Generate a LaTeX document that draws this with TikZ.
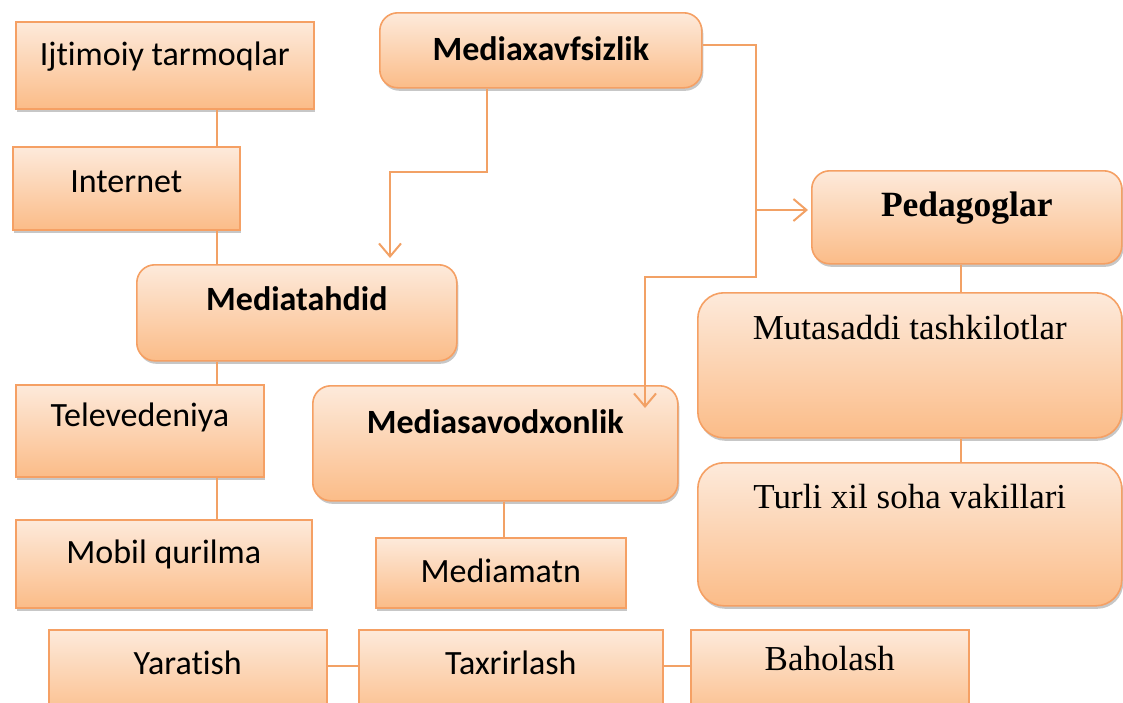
\documentclass[tikz,border=0pt]{standalone}
\usepackage{fontspec}
\setmainfont[Ligatures={NoCommon,NoContextual}]{Carlito}
\newfontfamily\serif{Liberation Serif}
\usetikzlibrary{arrows.meta,shadows}
\definecolor{topc}{HTML}{FDEADB}
\definecolor{botc}{HTML}{FBBC88}
\definecolor{bord}{HTML}{F5A064}
\definecolor{conc}{HTML}{F2A165}
\tikzset{
  box/.style={draw=bord, line width=1.6pt, top color=topc, bottom color=botc,
    inner sep=0pt, anchor=north west, font=\fontsize{34}{40}\selectfont,
    drop shadow={shadow xshift=1.5pt, shadow yshift=-3pt, opacity=0.22, fill=black}},
  rbox/.style={box, rounded corners=18pt},
  conn/.style={draw=conc, line width=2pt},
  arr/.style={conn, -{Straight Barb[length=13pt,width=22pt,line width=2pt]}},
}
\begin{document}
\begin{tikzpicture}[x=1pt,y=-1pt]
\useasboundingbox (0,0) rectangle (1123,702);
\clip (0,0) rectangle (1123,702);
% left column
\node[box, minimum width=298pt, text height=44pt, text depth=43pt] (ij) at (15,21) {Ijtimoiy tarmoqlar};
\node[box, minimum width=227pt, text height=46pt, text depth=37pt] (inet) at (12,146) {Internet};
\node[rbox, minimum width=320pt, text height=46pt, text depth=50pt, font=\fontsize{34}{40}\selectfont\bfseries] (mt) at (136,264) {Mediatahdid};
\node[box, minimum width=248pt, text height=42pt, text depth=50pt] (tv) at (15,384) {Televedeniya};
\node[box, minimum width=296pt, text height=44pt, text depth=44pt] (mob) at (15,519) {Mobil qurilma};
% middle
\node[rbox, minimum width=322pt, text height=48pt, text depth=27pt, font=\fontsize{34}{40}\selectfont\bfseries] (mxs) at (379,12) {Mediaxavfsizlik};
\node[rbox, minimum width=365pt, text height=48pt, text depth=67pt, font=\fontsize{34}{40}\selectfont\bfseries] (ms) at (312,385) {Mediasavodxonlik};
\node[box, minimum width=250pt, text height=45pt, text depth=25pt] (mm) at (375,537) {Mediamatn};
% right
\node[rbox, minimum width=310pt, text height=46pt, text depth=47pt, font=\fontsize{35.5}{40}\selectfont\serif\bfseries] (ped) at (811,170) {Pedagoglar};
\node[rbox, rounded corners=26pt, minimum width=424pt, text height=47pt, text depth=98pt, font=\fontsize{35}{40}\selectfont\serif] (mut) at (697,292) {Mutasaddi tashkilotlar};
\node[rbox, rounded corners=26pt, minimum width=424pt, text height=46pt, text depth=97pt, font=\fontsize{35}{40}\selectfont\serif] (tur) at (697,462) {Turli xil soha vakillari};
% bottom row
\node[box, minimum width=278pt, text height=45pt, text depth=46pt] (yar) at (48,629) {Yaratish};
\node[box, minimum width=304pt, text height=45pt, text depth=46pt] (tax) at (358,629) {Taxrirlash};
\node[box, minimum width=278pt, text height=41pt, text depth=50pt, font=\fontsize{35}{40}\selectfont\serif] (bah) at (690,629) {Baholash};
% connector coordinates
\coordinate (lx) at (217,0);
\coordinate (mx) at (504,0);
\coordinate (px) at (961,0);
\coordinate (hy) at (0,666);
\draw[conn] (ij.south -| lx) -- (inet.north -| lx);
\draw[conn] (inet.south -| lx) -- (mt.north -| lx);
\draw[conn] (mt.south -| lx) -- (tv.north -| lx);
\draw[conn] (tv.south -| lx) -- (mob.north -| lx);
\draw[conn] (ms.south -| mx) -- (mm.north -| mx);
\draw[conn] (ped.south -| px) -- (mut.north -| px);
\draw[conn] (mut.south -| px) -- (tur.north -| px);
\draw[conn] (yar.east |- hy) -- (tax.west |- hy);
\draw[conn] (tax.east |- hy) -- (bah.west |- hy);
% arrows from Mediaxavfsizlik
\coordinate (k1) at (487,172);
\coordinate (k2) at (390,172);
\draw[arr, shorten >=6pt] (mxs.south -| k1) -- (k1) -- (k2) -- (mt.north -| k2);
\coordinate (r1) at (756,45);
\coordinate (r2) at (756,210);
\coordinate (r3) at (756,277);
\coordinate (r4) at (645,277);
\coordinate (r5) at (645,408);
\draw[arr, shorten >=3pt] (mxs.east |- r1) -- (r1) -- (r2) -- (ped.west |- r2);
\draw[arr] (r2) -- (r3) -- (r4) -- (r5);
\end{tikzpicture}
\end{document}
